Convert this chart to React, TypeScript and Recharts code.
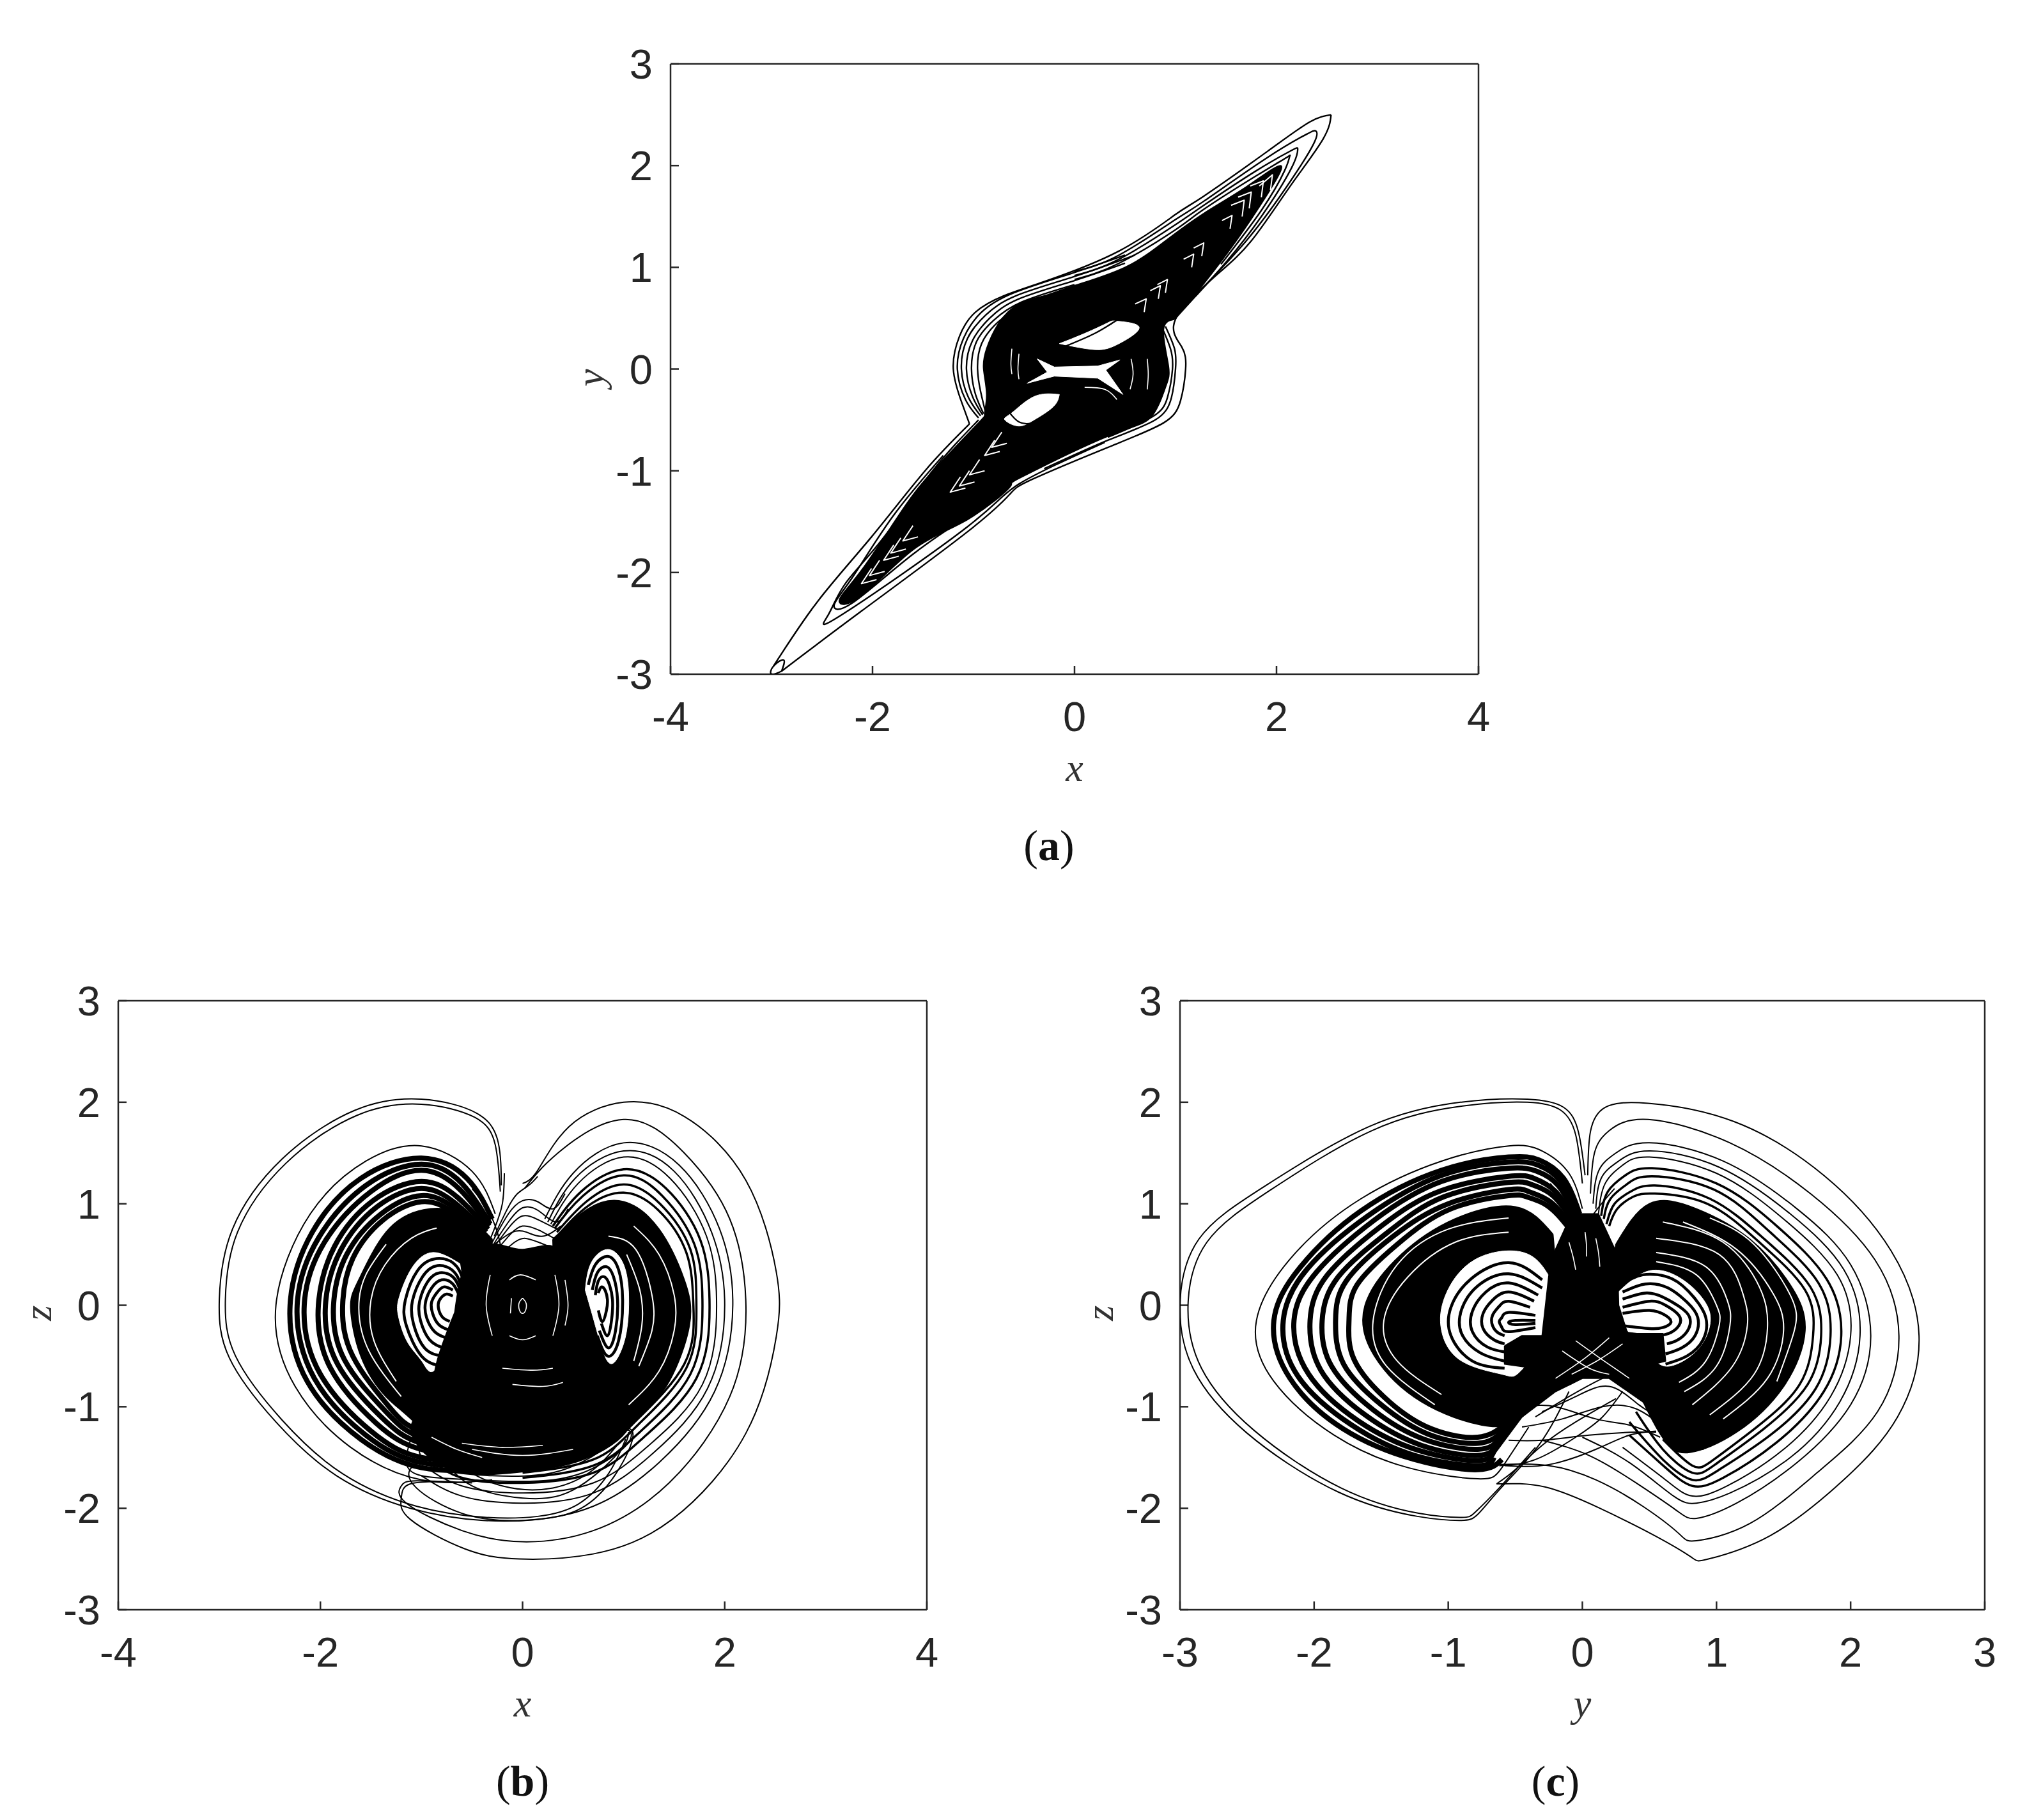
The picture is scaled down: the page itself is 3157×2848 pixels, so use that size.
import React from 'react';
import { ScatterChart, Scatter, XAxis, YAxis, Label } from 'recharts';

type Curve = number[][];

const ticksFour = [-4, -2, 0, 2, 4];
const ticksThree = [-3, -2, -1, 0, 1, 2, 3];

// ---- panel a: x / y
const aBody: Curve = [[0.99,0.49],[1.28,0.84],[1.6,1.26],[1.91,1.72],[2.04,2.0],[1.7,1.79],[1.28,1.53],[0.9,1.26],[0.5,1.0],[0,0.82],[-0.3,0.72],[-0.55,0.64],[-0.75,0.45],[-0.87,0.2],[-0.9,0],[-0.87,-0.25],[-0.89,-0.44],[-0.96,-0.54],[-1.38,-0.98],[-1.7,-1.38],[-2.11,-1.98],[-2.33,-2.28],[-2.11,-2.23],[-1.59,-1.77],[-1.06,-1.48],[-0.64,-1.16],[-0.52,-1.06],[0.33,-0.66],[0.75,-0.48],[0.9,-0.18],[0.93,0.03],[0.88,0.38],[0.99,0.49]];
const aHoleUp: Curve = [[-0.15,0.25],[0.1,0.35],[0.33,0.455],[0.43,0.47],[0.64,0.41],[0.44,0.25],[0.23,0.19],[0,0.22],[-0.15,0.25]];
const aHoleLow: Curve = [[-0.15,-0.25],[-0.4,-0.27],[-0.62,-0.43],[-0.69,-0.5],[-0.56,-0.56],[-0.4,-0.5],[-0.21,-0.37],[-0.15,-0.25]];
const aHoleMid: Curve = [[-0.37,0.1],[-0.2,0.02],[0.23,0.03],[0.45,0.09],[0.31,-0.01],[0.48,-0.25],[0.23,-0.09],[-0.2,-0.07],[-0.47,-0.14],[-0.27,-0.03],[-0.37,0.1]];
const aOut1: Curve = [[-1.04,-0.54],[-1.12,-0.32],[-1.2,0],[-1.14,0.32],[-0.98,0.56],[-0.7,0.72],[-0.3,0.86],[0.44,1.16],[1,1.52],[1.28,1.7],[1.91,2.14],[2.33,2.43],[2.54,2.5]];
const aOut2: Curve = [[2.54,2.5],[2.46,2.26],[2.13,1.79],[1.75,1.26],[1.39,0.91],[1.0,0.49],[1.06,0.22],[1.1,0],[1.05,-0.31],[0.88,-0.53],[0.33,-0.77],[-0.41,-1.08],[-0.64,-1.23],[-1.06,-1.6],[-2.11,-2.38],[-2.9,-2.97]];
const aOut3: Curve = [[-2.98,-2.92],[-2.54,-2.28],[-2.01,-1.65],[-1.48,-1.0],[-1.04,-0.54]];
const aTip: Curve = [[-2.9,-2.97],[-3,-3],[-2.98,-2.92],[-2.88,-2.86],[-2.9,-2.97]];
const aUp2: Curve = [[0,0.96],[0.44,1.12],[1,1.47],[1.28,1.65],[1.91,2.08],[2.3,2.31],[2.39,2.34],[2.36,2.2],[2.05,1.72],[1.7,1.26],[1.35,0.88],[1.0,0.5]];
const aUp3: Curve = [[0,0.92],[0.44,1.08],[1,1.42],[1.28,1.61],[1.8,1.95],[2.15,2.15],[2.21,2.16],[2.15,1.98],[1.85,1.5],[1.5,1.05],[1.2,0.72]];
const aUp4: Curve = [[0,0.88],[0.44,1.04],[1,1.37],[1.28,1.57],[1.8,1.9],[2.1,2.08],[2.13,2.09],[2.08,1.95],[1.85,1.56],[1.45,1.03]];
const aLow2: Curve = [[-0.95,-0.5],[-1.42,-1.02],[-1.9,-1.67],[-2.27,-2.11],[-2.44,-2.42],[-2.28,-2.4],[-1.06,-1.55],[-0.55,-1.13],[0.3,-0.72]];
const aLow3: Curve = [[-1.3,-0.85],[-1.8,-1.45],[-2.2,-2.05],[-2.38,-2.32],[-2.2,-2.3],[-1.6,-1.82],[-0.9,-1.35]];
const aBulge1: Curve = [[-0.95,-0.48],[-1.08,-0.3],[-1.16,0],[-1.1,0.3],[-0.93,0.55],[-0.6,0.75],[0,0.95],[0.5,1.12]];
const aBulge2: Curve = [[-0.93,-0.46],[-1.05,-0.28],[-1.12,0],[-1.06,0.3],[-0.88,0.53],[-0.58,0.72],[0,0.91],[0.6,1.12]];
const aBulge3: Curve = [[-0.91,-0.45],[-1.01,-0.27],[-1.07,0],[-1.01,0.28],[-0.84,0.5],[-0.55,0.69],[0,0.87],[0.5,1.04]];
const aBulge4: Curve = [[-0.9,-0.44],[-0.98,-0.25],[-1.02,0],[-0.97,0.27],[-0.8,0.48],[-0.52,0.66],[0,0.83]];
const aBulge5: Curve = [[-0.88,-0.43],[-0.93,-0.22],[-0.96,0],[-0.92,0.25],[-0.76,0.46],[-0.5,0.62],[0,0.79]];
const aRight1: Curve = [[0.9,0.42],[0.99,0.2],[1.0,0],[0.96,-0.28],[0.8,-0.5],[0.33,-0.7],[-0.3,-0.98]];
const aRight2: Curve = [[0.87,0.4],[0.95,0.2],[0.97,0],[0.92,-0.28],[0.77,-0.47],[0.33,-0.67]];
const aCross: Curve = [[-0.1,0.22],[0.2,0.35],[0.42,0.48],[0.6,0.55],[0.7,0.45]];
const aLowRing: Curve = [[-0.65,-0.42],[-0.55,-0.52],[-0.42,-0.53],[-0.3,-0.47]];
const aChevronsWhite: Curve[] = [
  [[1.83,1.8],[1.96,1.91],[1.94,1.76]],
  [[1.74,1.8],[1.87,1.85],[1.85,1.69]],
  [[1.62,1.69],[1.75,1.74],[1.73,1.58]],
  [[1.55,1.61],[1.68,1.66],[1.66,1.5]],
  [[1.46,1.46],[1.56,1.51],[1.54,1.38]],
  [[1.18,1.19],[1.28,1.24],[1.26,1.11]],
  [[1.08,1.08],[1.18,1.13],[1.16,1.0]],
  [[0.82,0.83],[0.92,0.88],[0.9,0.75]],
  [[0.75,0.77],[0.85,0.82],[0.83,0.69]],
  [[0.6,0.64],[0.71,0.69],[0.69,0.56]],
  [[-2.01,-1.96],[-2.11,-2.11],[-1.96,-2.07]],
  [[-1.93,-1.88],[-2.03,-2.03],[-1.88,-1.99]],
  [[-1.79,-1.73],[-1.89,-1.88],[-1.74,-1.84]],
  [[-1.72,-1.66],[-1.82,-1.81],[-1.67,-1.77]],
  [[-1.6,-1.54],[-1.7,-1.69],[-1.55,-1.65]],
  [[-1.13,-1.06],[-1.23,-1.21],[-1.08,-1.17]],
  [[-1.04,-1.0],[-1.14,-1.15],[-0.99,-1.11]],
  [[-0.94,-0.89],[-1.04,-1.04],[-0.89,-1.0]],
  [[-0.79,-0.7],[-0.89,-0.85],[-0.74,-0.81]],
  [[-0.72,-0.62],[-0.82,-0.77],[-0.67,-0.73]],
];
const aSlitsWhite: Curve[] = [
  [[-0.55,0.15],[-0.56,0],[-0.55,-0.1]],
  [[-0.62,0.2],[-0.63,0.05],[-0.62,-0.05]],
  [[0.56,0.1],[0.58,-0.05],[0.55,-0.2]],
  [[0.72,0.1],[0.73,-0.05],[0.72,-0.2]],
  [[0.1,-0.18],[0.3,-0.2],[0.42,-0.3]],
];

// ---- panel b: x / z
const bLeftRing: Curve = [[-0.3,0.65],[-0.6,0.9],[-0.98,0.94],[-1.35,0.72],[-1.62,0.25],[-1.7,-0.03],[-1.6,-0.5],[-1.35,-0.9],[-1.0,-1.22],[-0.5,-1.35],[-0.3,0.65]];
const bLeftEye: Curve = [[-0.62,0.41],[-0.89,0.52],[-1.1,0.36],[-1.22,0.08],[-1.23,-0.1],[-1.14,-0.36],[-0.99,-0.56],[-0.85,-0.62],[-0.62,-0.1],[-0.62,0.41]];
const bRightRing: Curve = [[0.3,0.65],[0.65,0.95],[1,1.02],[1.35,0.75],[1.6,0.25],[1.65,-0.2],[1.45,-0.75],[1.1,-1.15],[0.5,-1.3],[0.3,0.65]];
const bRightEye: Curve = [[0.62,0.15],[0.68,0.42],[0.85,0.55],[1,0.4],[1.05,0.1],[1.03,-0.25],[0.95,-0.5],[0.84,-0.55],[0.72,-0.2],[0.62,0.15]];
const bCore: Curve = [[-0.67,-0.07],[-0.6,0.3],[-0.45,0.52],[-0.25,0.6],[0,0.55],[0.3,0.58],[0.5,0.35],[0.62,0.1],[0.7,-0.2],[0.8,-0.55],[0.95,-0.85],[1.05,-1.2],[0.6,-1.52],[0,-1.64],[-0.7,-1.62],[-1.1,-1.25],[-0.95,-0.95],[-0.85,-0.57],[-0.67,-0.07]];
const bLeftBig1: Curve = [[-0.21,1.18],[-0.24,1.6],[-0.45,1.89],[-1,2.03],[-1.66,1.92],[-2.38,1.44],[-2.87,0.75],[-3,0.06],[-2.9,-0.52],[-2.44,-1.15],[-1.84,-1.68],[-1.11,-2],[-0.39,-2.12],[0.15,-2.11],[0.58,-2],[0.91,-1.68],[1.09,-1.31],[1.02,-1.2]];
const bLeftBig2: Curve = [[-0.22,1.12],[-0.27,1.58],[-0.47,1.85],[-1,1.98],[-1.64,1.87],[-2.34,1.4],[-2.82,0.72],[-2.94,0.06],[-2.84,-0.5],[-2.38,-1.13],[-1.78,-1.66],[-1.05,-1.98],[-0.36,-2.09],[0.15,-2.08],[0.55,-1.96],[0.85,-1.66],[1.02,-1.32]];
const bL1: Curve = [[-0.27,0.9],[-0.5,1.32],[-1,1.57],[-1.55,1.42],[-2.1,0.9],[-2.44,0],[-2.25,-0.8],[-1.7,-1.4],[-1,-1.72],[-0.3,-1.72]];
const bL2: Curve = [[-0.3,0.85],[-0.55,1.25],[-1,1.45],[-1.6,1.25],[-2.08,0.72],[-2.3,0],[-2.13,-0.75],[-1.6,-1.32],[-1,-1.6],[-0.3,-1.62]];
const bL3: Curve = [[-0.32,0.8],[-0.6,1.2],[-1,1.39],[-1.55,1.18],[-2.02,0.66],[-2.23,0],[-2.06,-0.72],[-1.55,-1.28],[-1,-1.55],[-0.3,-1.58]];
const bL4: Curve = [[-0.33,0.78],[-0.62,1.14],[-1,1.33],[-1.5,1.12],[-1.96,0.62],[-2.16,0],[-2.0,-0.68],[-1.5,-1.24],[-1,-1.5],[-0.3,-1.55]];
const bL5: Curve = [[-0.34,0.75],[-0.64,1.06],[-1,1.22],[-1.48,1.03],[-1.86,0.58],[-2.02,0],[-1.9,-0.62],[-1.45,-1.16],[-1,-1.42],[-0.3,-1.52]];
const bL6: Curve = [[-0.36,0.72],[-0.66,1.0],[-1,1.15],[-1.44,0.97],[-1.8,0.54],[-1.95,0],[-1.83,-0.58],[-1.4,-1.1],[-1,-1.36],[-0.3,-1.48]];
const bL7: Curve = [[-0.38,0.7],[-0.68,0.96],[-1,1.08],[-1.4,0.9],[-1.74,0.5],[-1.87,0],[-1.76,-0.54],[-1.36,-1.04],[-1,-1.3],[-0.3,-1.42]];
const bL8: Curve = [[-0.4,0.68],[-0.7,0.92],[-1,1.02],[-1.38,0.84],[-1.68,0.46],[-1.78,0],[-1.68,-0.5],[-1.32,-1.0],[-1,-1.24],[-0.3,-1.38]];
const bLEye1: Curve = [[-0.8,-0.6],[-1,-0.5],[-1.15,-0.2],[-1.16,0.05],[-1.04,0.34],[-0.85,0.46],[-0.65,0.38],[-0.55,0.1]];
const bLEye2: Curve = [[-0.8,-0.5],[-0.97,-0.42],[-1.08,-0.18],[-1.09,0.04],[-0.99,0.28],[-0.84,0.39],[-0.67,0.32],[-0.58,0.1]];
const bLEye3: Curve = [[-0.78,-0.42],[-0.92,-0.34],[-1.01,-0.15],[-1.02,0.03],[-0.94,0.23],[-0.82,0.32],[-0.68,0.27],[-0.6,0.1]];
const bLEye4: Curve = [[-0.76,-0.32],[-0.87,-0.26],[-0.95,-0.12],[-0.96,0.03],[-0.9,0.17],[-0.8,0.25],[-0.69,0.21],[-0.62,0.08]];
const bLEye5: Curve = [[-0.74,-0.24],[-0.83,-0.19],[-0.89,-0.08],[-0.9,0.03],[-0.85,0.12],[-0.78,0.18],[-0.69,0.15]];
const bLEye6: Curve = [[-0.72,-0.16],[-0.79,-0.12],[-0.83,-0.04],[-0.83,0.03],[-0.8,0.08],[-0.75,0.11],[-0.69,0.09]];
const bREye1: Curve = [[0.74,-0.3],[0.84,-0.5],[0.95,-0.35],[0.99,0.05],[0.95,0.35],[0.85,0.48],[0.72,0.4],[0.65,0.2]];
const bREye2: Curve = [[0.76,-0.25],[0.85,-0.42],[0.92,-0.25],[0.94,0.05],[0.9,0.28],[0.83,0.38],[0.74,0.32],[0.69,0.15]];
const bREye3: Curve = [[0.78,-0.18],[0.84,-0.3],[0.88,-0.15],[0.89,0.05],[0.86,0.2],[0.81,0.28],[0.75,0.24],[0.72,0.1]];
const bREye4: Curve = [[0.75,-0.05],[0.79,-0.16],[0.83,-0.05],[0.84,0.05],[0.82,0.14],[0.78,0.18],[0.75,0.12]];
const bR1: Curve = [[0,1.2],[0.15,1.33],[0.46,1.76],[1,2],[1.6,1.86],[2.21,1.23],[2.51,0.33],[2.51,-0.31],[2.21,-1.26],[1.48,-2.11],[0.7,-2.45],[-0.03,-2.5],[-0.57,-2.4],[-1.11,-2.11],[-1.2,-1.9],[-1.11,-1.76],[-0.69,-1.74]];
const bR2: Curve = [[0.02,1.15],[0.35,1.5],[1,1.83],[1.6,1.5],[2.05,0.85],[2.21,0],[2.05,-0.9],[1.45,-1.75],[0.7,-2.22],[0,-2.33],[-0.6,-2.22],[-1.15,-1.95],[-1.2,-1.78],[-1.05,-1.73],[-0.5,-1.75]];
const bR3: Curve = [[0.22,0.85],[0.5,1.3],[1,1.6],[1.55,1.38],[1.95,0.75],[2.08,0],[1.9,-0.85],[1.35,-1.55],[0.7,-1.98],[0,-2.12],[-0.6,-2.05],[-1.05,-1.8],[-1.1,-1.6],[-0.9,-1.5]];
const bR4: Curve = [[0.25,0.82],[0.52,1.25],[1,1.52],[1.5,1.32],[1.87,0.72],[2,0],[1.83,-0.82],[1.3,-1.45],[0.7,-1.85],[0,-1.95],[-0.6,-1.88],[-1,-1.68]];
const bR5: Curve = [[0.28,0.8],[0.55,1.2],[1,1.46],[1.46,1.25],[1.82,0.68],[1.92,0],[1.78,-0.78],[1.25,-1.38],[0.7,-1.75],[0,-1.85],[-0.6,-1.78],[-0.95,-1.6]];
const bR6: Curve = [[0.3,0.78],[0.58,1.12],[1,1.34],[1.42,1.15],[1.76,0.64],[1.85,0],[1.72,-0.72],[1.2,-1.3],[0.7,-1.65],[0,-1.75],[-0.6,-1.7],[-0.9,-1.52]];
const bR7: Curve = [[0.32,0.76],[0.6,1.08],[1,1.28],[1.38,1.08],[1.7,0.6],[1.78,0],[1.66,-0.68],[1.17,-1.24],[0.7,-1.58],[0,-1.7]];
const bR8: Curve = [[0.34,0.72],[0.63,1.02],[1,1.19],[1.36,1],[1.66,0.55],[1.72,0],[1.62,-0.62],[1.14,-1.18],[0.7,-1.52],[0,-1.65]];
const bR9: Curve = [[0.36,0.7],[0.65,0.98],[1,1.11],[1.34,0.94],[1.62,0.52],[1.69,0],[1.6,-0.58],[1.12,-1.14],[0.7,-1.46],[0,-1.6]];
const bHump1: Curve = [[-0.28,0.68],[-0.15,0.95],[-0.05,1.1],[0.06,1.18],[0.15,1.27]];
const bHump2: Curve = [[-0.3,0.62],[-0.14,0.9],[0,1.03],[0.15,1.02],[0.3,0.95],[0.42,1.1]];
const bHump3: Curve = [[-0.3,0.58],[-0.14,0.82],[0,0.96],[0.16,0.93],[0.33,0.82],[0.45,0.95]];
const bHump4: Curve = [[-0.3,0.55],[-0.14,0.76],[0,0.88],[0.16,0.84],[0.36,0.74]];
const bHump5: Curve = [[-0.25,0.55],[-0.12,0.7],[0,0.78],[0.16,0.74],[0.38,0.62]];
const bHump6: Curve = [[-0.2,0.52],[-0.08,0.62],[0.02,0.66],[0.16,0.62],[0.36,0.54]];
const bHump7: Curve = [[-0.28,0.6],[-0.1,0.72],[0.04,0.72],[0.2,0.68],[0.38,0.78]];
const bFall1: Curve = [[-0.18,1.3],[-0.2,1.0],[-0.28,0.75],[-0.38,0.5]];
const bFall2: Curve = [[-0.5,1.15],[-0.35,0.95],[-0.25,0.72],[-0.2,0.5]];
const bHook1: Curve = [[-1.1,-1.3],[-1.15,-1.55],[-1.0,-1.68],[-0.5,-1.72],[0.3,-1.72],[0.8,-1.55],[1.05,-1.35],[1.02,-1.22],[0.7,-1.25]];
const bHook2: Curve = [[-0.95,-1.2],[-1.02,-1.45],[-0.8,-1.62],[-0.3,-1.68],[0.3,-1.65],[0.75,-1.45],[0.95,-1.28]];
const bHook3: Curve = [[-0.8,-1.5],[-0.5,-1.78],[0,-1.9],[0.5,-1.82],[0.95,-1.45],[1.05,-1.25]];
const bHook4: Curve = [[-0.6,-1.6],[-0.2,-1.78],[0.3,-1.8],[0.7,-1.62],[0.95,-1.36]];
const bCoreWhite: Curve[] = [
  [[-0.13,0.25],[-0.02,0.3],[0.13,0.25]],
  [[-0.13,-0.3],[0,-0.34],[0.13,-0.3]],
  [[-0.11,0.07],[-0.12,-0.08]],
  [[0,0.07],[0.035,0.02],[0.03,-0.05],[0,-0.08],[-0.03,-0.05],[-0.035,0.02],[0,0.07]],
  [[-0.32,0.3],[-0.36,0],[-0.3,-0.3]],
  [[0.32,0.3],[0.36,0],[0.3,-0.3]],
  [[0.42,0.25],[0.45,0],[0.42,-0.2]],
  [[-0.2,-0.62],[0.1,-0.64],[0.3,-0.62]],
  [[-0.1,-0.78],[0.2,-0.8],[0.4,-0.76]],
  [[-0.5,-1.42],[0,-1.48],[0.5,-1.42]],
  [[-0.6,-1.36],[-0.2,-1.4],[0.2,-1.38]],
  [[-0.9,-1.3],[-0.65,-1.42],[-0.4,-1.5]],
];
const bRingWhite: Curve[] = [
  [[-0.85,0.76],[-1.1,0.66],[-1.36,0.4],[-1.5,0.05],[-1.47,-0.35],[-1.25,-0.75]],
  [[-1.2,-0.9],[-1.52,-0.45],[-1.62,-0.03],[-1.55,0.3],[-1.35,0.6]],
  [[1.1,0.78],[1.35,0.5],[1.5,0.1],[1.5,-0.25],[1.35,-0.65],[1.05,-0.98]],
  [[0.85,0.68],[1.12,0.55],[1.28,0.1],[1.28,-0.25],[1.15,-0.6]],
  [[1.1,-0.55],[1.18,-0.2],[1.16,0.15],[1.03,0.5]],
];

// ---- panel c: y / z
const cLeftRing: Curve = [[-0.22,0.7],[-0.5,0.97],[-0.95,0.85],[-1.35,0.5],[-1.62,0],[-1.55,-0.5],[-1.2,-0.95],[-0.75,-1.18],[-0.45,-1.1],[-0.2,-0.5],[-0.22,0.7]];
const cLeftEye: Curve = [[-0.25,0.29],[-0.44,0.52],[-0.8,0.45],[-1.02,0.1],[-1.05,-0.25],[-0.9,-0.55],[-0.6,-0.68],[-0.47,-0.66],[-0.3,-0.3],[-0.25,0.29]];
const cRightRing: Curve = [[0.25,0.6],[0.5,1.0],[0.85,0.95],[1.25,0.65],[1.55,0.2],[1.66,-0.25],[1.5,-0.8],[1.15,-1.25],[0.8,-1.45],[0.55,-1.2],[0.25,-0.2],[0.25,0.6]];
const cRightEye: Curve = [[0.26,0.12],[0.5,0.34],[0.75,0.25],[0.92,0.02],[0.95,-0.2],[0.85,-0.45],[0.65,-0.6],[0.5,-0.5],[0.3,-0.22],[0.26,0.12]];
const cCentre: Curve = [[-0.08,0.9],[0.12,0.9],[0.26,0.5],[0.27,0.0],[0.33,-0.25],[0.55,-0.7],[0.9,-1.42],[0.75,-1.4],[0.45,-0.95],[0.2,-0.72],[0.0,-0.72],[-0.2,-0.85],[-0.45,-1.1],[-0.72,-1.58],[-0.62,-1.2],[-0.42,-0.75],[-0.3,-0.3],[-0.25,0.29],[-0.2,0.55],[-0.08,0.9]];
const cBlock: Curve = [[-0.58,-0.4],[-0.45,-0.3],[-0.3,-0.3],[-0.36,-0.62],[-0.58,-0.58],[-0.58,-0.4]];
const cBlockR: Curve = [[0.33,-0.28],[0.6,-0.28],[0.62,-0.55],[0.42,-0.62],[0.33,-0.28]];
const cBig1: Curve = [[0.02,1.28],[-0.03,1.71],[-0.14,1.95],[-0.41,2.03],[-0.91,2],[-1.59,1.76],[-2.36,1.18],[-2.86,0.65],[-3,0],[-2.9,-0.63],[-2.5,-1.26],[-1.82,-1.84],[-1.23,-2.08],[-0.91,-2.12],[-0.78,-2.06],[-0.6,-1.79],[-0.32,-1.37],[-0.1,-0.85]];
const cBig2: Curve = [[0.0,1.2],[-0.05,1.68],[-0.16,1.92],[-0.41,2.0],[-0.91,1.96],[-1.57,1.72],[-2.32,1.14],[-2.8,0.62],[-2.94,0],[-2.84,-0.62],[-2.45,-1.23],[-1.8,-1.8],[-1.22,-2.05],[-0.9,-2.09],[-0.8,-2.04],[-0.62,-1.8],[-0.35,-1.4]];
const cL1: Curve = [[0.0,0.95],[-0.1,1.3],[-0.3,1.52],[-0.55,1.57],[-1.05,1.42],[-1.65,1.05],[-2.15,0.5],[-2.43,-0.15],[-2.3,-0.75],[-1.85,-1.28],[-1.3,-1.6],[-0.78,-1.71],[-0.6,-1.6],[-0.4,-1.2]];
const cL2: Curve = [[-0.02,0.9],[-0.14,1.25],[-0.32,1.43],[-0.55,1.46],[-1.05,1.33],[-1.65,0.93],[-2.1,0.38],[-2.3,-0.15],[-2.18,-0.72],[-1.78,-1.22],[-1.25,-1.52],[-0.78,-1.62],[-0.6,-1.52]];
const cL3: Curve = [[-0.03,0.88],[-0.16,1.22],[-0.33,1.38],[-0.55,1.41],[-1.05,1.28],[-1.6,0.88],[-2.05,0.36],[-2.23,-0.15],[-2.12,-0.7],[-1.72,-1.18],[-1.25,-1.48],[-0.78,-1.58],[-0.66,-1.5]];
const cL4: Curve = [[-0.04,0.85],[-0.18,1.18],[-0.34,1.32],[-0.55,1.35],[-1.05,1.22],[-1.55,0.84],[-1.98,0.33],[-2.15,-0.15],[-2.04,-0.68],[-1.67,-1.14],[-1.22,-1.43],[-0.78,-1.53],[-0.66,-1.44]];
const cL5: Curve = [[-0.05,0.82],[-0.2,1.12],[-0.36,1.25],[-0.55,1.27],[-1.05,1.13],[-1.5,0.78],[-1.9,0.3],[-2.03,-0.15],[-1.95,-0.64],[-1.62,-1.08],[-1.2,-1.38],[-0.78,-1.48],[-0.64,-1.38]];
const cL6: Curve = [[-0.06,0.8],[-0.22,1.08],[-0.38,1.19],[-0.55,1.21],[-1.03,1.07],[-1.45,0.72],[-1.82,0.28],[-1.94,-0.15],[-1.87,-0.6],[-1.56,-1.03],[-1.18,-1.32],[-0.78,-1.42],[-0.62,-1.32]];
const cL7: Curve = [[-0.08,0.78],[-0.24,1.02],[-0.4,1.12],[-0.55,1.14],[-1.0,1.0],[-1.42,0.67],[-1.76,0.24],[-1.84,-0.15],[-1.78,-0.58],[-1.5,-0.98],[-1.15,-1.27],[-0.78,-1.36],[-0.6,-1.25]];
const cL8: Curve = [[-0.1,0.76],[-0.26,0.98],[-0.42,1.07],[-0.55,1.08],[-0.98,0.95],[-1.38,0.6],[-1.68,0.2],[-1.74,-0.15],[-1.7,-0.54],[-1.44,-0.95],[-1.12,-1.22],[-0.78,-1.3],[-0.58,-1.18]];
const cLEye1: Curve = [[-0.58,-0.62],[-0.82,-0.55],[-0.98,-0.3],[-0.98,-0.02],[-0.83,0.26],[-0.55,0.42],[-0.3,0.25]];
const cLEye2: Curve = [[-0.58,-0.55],[-0.76,-0.47],[-0.9,-0.28],[-0.9,-0.04],[-0.78,0.19],[-0.55,0.31],[-0.3,0.17]];
const cLEye3: Curve = [[-0.58,-0.46],[-0.71,-0.41],[-0.82,-0.26],[-0.82,-0.06],[-0.72,0.13],[-0.55,0.22],[-0.33,0.1]];
const cLEye4: Curve = [[-0.58,-0.38],[-0.66,-0.34],[-0.74,-0.23],[-0.74,-0.08],[-0.67,0.05],[-0.55,0.13],[-0.36,0.04]];
const cLEye5: Curve = [[-0.58,-0.3],[-0.63,-0.27],[-0.67,-0.2],[-0.67,-0.1],[-0.62,-0.01],[-0.55,0.04],[-0.39,-0.02]];
const cLEye6: Curve = [[-0.35,-0.1],[-0.55,-0.07],[-0.6,-0.12],[-0.62,-0.16],[-0.6,-0.22],[-0.55,-0.26],[-0.35,-0.22]];
const cLEye7: Curve = [[-0.35,-0.15],[-0.5,-0.15],[-0.55,-0.17],[-0.5,-0.19],[-0.35,-0.18]];
const cR1: Curve = [[0.04,1.28],[0.06,1.71],[0.17,1.95],[0.49,1.99],[1.13,1.81],[1.8,1.28],[2.3,0.54],[2.51,-0.3],[2.35,-1.1],[1.94,-1.73],[1.4,-2.27],[0.94,-2.5],[0.81,-2.48],[0.54,-2.27],[0.13,-2],[-0.28,-1.79],[-0.64,-1.76]];
const cR2: Curve = [[0.06,1.1],[0.09,1.5],[0.2,1.72],[0.49,1.83],[1.1,1.6],[1.7,1.1],[2.18,0.45],[2.36,-0.3],[2.2,-1.05],[1.75,-1.65],[1.25,-2.15],[0.85,-2.32],[0.72,-2.25],[0.45,-1.98],[0.1,-1.72],[-0.25,-1.58],[-0.62,-1.57]];
const cR3: Curve = [[0.08,1.0],[0.12,1.32],[0.25,1.5],[0.5,1.6],[1.05,1.42],[1.6,0.95],[2.0,0.4],[2.15,-0.3],[2.0,-0.98],[1.6,-1.55],[1.15,-1.95],[0.85,-2.1],[0.7,-2.02],[0.4,-1.75],[0.05,-1.48],[-0.3,-1.33]];
const cR4: Curve = [[0.1,0.95],[0.14,1.25],[0.27,1.42],[0.5,1.52],[1.02,1.36],[1.55,0.9],[1.95,0.35],[2.07,-0.3],[1.92,-0.95],[1.55,-1.5],[1.1,-1.85],[0.85,-1.95],[0.68,-1.88],[0.35,-1.55],[0,-1.3]];
const cR5: Curve = [[0.12,0.9],[0.17,1.2],[0.3,1.38],[0.5,1.46],[1,1.3],[1.5,0.85],[1.9,0.3],[2.0,-0.3],[1.85,-0.9],[1.5,-1.42],[1.08,-1.78],[0.82,-1.88],[0.62,-1.72],[0.3,-1.4]];
const cR6: Curve = [[0.14,0.88],[0.19,1.12],[0.32,1.28],[0.52,1.35],[1,1.2],[1.45,0.78],[1.82,0.26],[1.93,-0.3],[1.8,-0.85],[1.45,-1.35],[1.05,-1.7],[0.82,-1.78],[0.62,-1.6],[0.35,-1.28]];
const cR7: Curve = [[0.16,0.85],[0.21,1.05],[0.34,1.2],[0.52,1.27],[0.98,1.14],[1.4,0.72],[1.76,0.22],[1.85,-0.3],[1.74,-0.82],[1.4,-1.28],[1.02,-1.62],[0.82,-1.72],[0.6,-1.52],[0.35,-1.15]];
const cR8: Curve = [[0.18,0.8],[0.24,1.0],[0.36,1.12],[0.54,1.18],[0.95,1.05],[1.35,0.66],[1.7,0.18],[1.78,-0.3],[1.68,-0.78],[1.35,-1.22],[1.0,-1.56],[0.82,-1.65],[0.6,-1.42],[0.4,-1.05]];
const cR9: Curve = [[0.2,0.78],[0.26,0.95],[0.38,1.07],[0.54,1.1],[0.93,1.0],[1.32,0.62],[1.66,0.15],[1.72,-0.3],[1.62,-0.78],[1.3,-1.2],[0.98,-1.52],[0.82,-1.58],[0.6,-1.32]];
const cREye1: Curve = [[0.62,-0.58],[0.78,-0.5],[0.9,-0.34],[0.92,-0.12],[0.83,0.08],[0.67,0.26],[0.45,0.3],[0.3,0.2]];
const cREye2: Curve = [[0.62,-0.48],[0.74,-0.42],[0.84,-0.3],[0.86,-0.12],[0.78,0.03],[0.64,0.17],[0.47,0.21],[0.3,0.13]];
const cREye3: Curve = [[0.63,-0.38],[0.7,-0.35],[0.78,-0.26],[0.8,-0.12],[0.72,-0.01],[0.6,0.08],[0.47,0.12],[0.3,0.06]];
const cREye4: Curve = [[0.3,-0.02],[0.5,0.04],[0.62,0.0],[0.72,-0.1],[0.72,-0.2],[0.64,-0.28],[0.5,-0.3],[0.3,-0.27]];
const cREye5: Curve = [[0.3,-0.08],[0.5,-0.05],[0.62,-0.1],[0.66,-0.17],[0.6,-0.22],[0.5,-0.23],[0.3,-0.2]];
const cFan1: Curve = [[-0.55,-1.33],[-0.3,-1.33],[0.05,-1.28],[0.4,-1.25],[0.55,-1.25]];
const cFan2: Curve = [[-0.62,-1.58],[-0.35,-1.52],[-0.05,-1.3],[0.15,-1.1],[0.3,-0.85]];
const cFan3: Curve = [[-0.64,-1.76],[-0.5,-1.62],[-0.3,-1.38],[-0.05,-1.15],[0.25,-0.92]];
const cFan4: Curve = [[-0.58,-1.58],[-0.25,-1.57],[0.1,-1.42],[0.35,-1.28],[0.55,-1.24]];
const cFan5: Curve = [[-0.35,-1.1],[-0.1,-0.9],[0.15,-0.72],[0.4,-0.65],[0.65,-0.9]];
const cFan6: Curve = [[-0.3,-0.85],[-0.05,-0.75],[0.2,-0.55],[0.45,-0.72],[0.7,-1.15]];
const cFan7: Curve = [[-0.45,-1.2],[-0.15,-1.12],[0.15,-1.0],[0.4,-1.02],[0.62,-1.22]];
const cFan8: Curve = [[-0.2,-0.6],[0,-0.5],[0.15,-0.35],[0.3,-0.5],[0.5,-0.8]];
const cFan10: Curve = [[-0.3,-1.05],[-0.05,-0.9],[0.2,-0.8],[0.42,-0.98],[0.6,-1.12]];
const cFan11: Curve = [[-0.42,-1.0],[-0.2,-1.0],[0.1,-1.12],[0.35,-1.18],[0.58,-1.3]];
const cTopFan1: Curve = [[-0.24,1.2],[-0.12,1.0],[0.0,0.8]];
const cTopFan2: Curve = [[0.24,1.15],[0.13,0.98],[0.03,0.8]];
const cRingWhite: Curve[] = [
  [[-0.55,0.72],[-0.95,0.62],[-1.3,0.28],[-1.48,-0.15],[-1.38,-0.55],[-1.05,-0.88]],
  [[-0.55,0.86],[-1.0,0.75],[-1.38,0.4],[-1.56,-0.15],[-1.46,-0.6],[-1.1,-0.98]],
  [[0.55,0.66],[1.02,0.5],[1.2,0.1],[1.23,-0.2],[1.12,-0.6],[0.82,-0.98]],
  [[0.55,0.52],[0.92,0.38],[1.08,0.05],[1.1,-0.2],[1.0,-0.6],[0.76,-0.85]],
  [[0.55,0.43],[0.85,0.3],[1.0,0],[1.02,-0.2],[0.92,-0.55],[0.72,-0.76]],
  [[0.75,0.82],[1.15,0.55],[1.42,0.12],[1.5,-0.25],[1.38,-0.72],[1.05,-1.12]],
  [[0.6,0.82],[1.05,0.62],[1.32,0.18],[1.38,-0.22],[1.28,-0.68],[0.95,-1.08]],
  [[0.95,0.86],[1.28,0.6],[1.55,0.1],[1.58,-0.25],[1.45,-0.75]],
];
const cHatchWhite: Curve[] = [
  [[-0.2,-0.72],[0.02,-0.52],[0.2,-0.32]],
  [[-0.08,-0.68],[0.12,-0.54],[0.3,-0.38]],
  [[-0.05,-0.35],[0.13,-0.52],[0.35,-0.72]],
  [[-0.15,-0.45],[0.05,-0.62],[0.2,-0.68]],
  [[-0.1,0.62],[-0.07,0.48],[-0.05,0.35]],
  [[0.1,0.66],[0.12,0.52],[0.13,0.38]],
  [[0.02,0.72],[0.03,0.6],[0.03,0.48]],
];

const aFills = [aBody];
const aHoles = [aHoleUp, aHoleLow];
const aHolesSharp = [aHoleMid];
const aLines = [aOut1, aOut2, aOut3, aTip, aUp2, aUp3, aUp4, aLow2, aLow3, aBulge1, aBulge2, aBulge3, aBulge4, aBulge5, aRight1, aRight2, aCross, aLowRing];
const bFills = [bLeftRing, bRightRing];
const bHoles = [bLeftEye, bRightEye];
const bThin = [bLeftBig1, bLeftBig2, bL1, bR1, bR2, bR3, bR4, bR5, bHump1, bHump2, bHump3, bHump4, bHump5, bHump6, bHump7, bFall1, bFall2, bHook1, bHook2, bHook3, bHook4];
const bHeavy = [bL2, bL3, bL4, bL5, bL6, bL7, bL8];
const bMedium = [bR6, bR7, bR8, bR9];
const bEyes = [bLEye1, bLEye2, bLEye3, bLEye4, bLEye5, bLEye6, bREye1, bREye2, bREye3, bREye4];
const bTop = [bCore];
const cFills = [cLeftRing, cRightRing];
const cHoles = [cLeftEye, cRightEye];
const cThin = [cBig1, cBig2, cL1, cR1, cR2, cR3, cR4, cR5, cFan1, cFan2, cFan3, cFan4, cFan5, cFan6, cFan7, cFan8, cFan10, cFan11, cTopFan1, cTopFan2];
const cHeavy = [cL2, cL3, cL4, cL5, cL6, cL7, cL8];
const cMedium = [cR6, cR7, cR8, cR9];
const cEyes = [cLEye1, cLEye2, cLEye3, cLEye4, cLEye5, cLEye6, cLEye7, cREye1, cREye2, cREye3, cREye4, cREye5];
const cTop = [cCentre, cBlock, cBlockR];

const INK = '#262626';
const noDot = () => <g />;
const toPoints = (c: Curve) => c.map(([x, y]) => ({ x, y }));

const series = (curves: Curve[], key: string, stroke: string, fill: string, width: number, joint: 'natural' | 'linear') =>
  curves.map((c, i) => (
    <Scatter
      key={key + i}
      data={toPoints(c)}
      shape={noDot}
      line={{ stroke, strokeWidth: width, fill, strokeLinejoin: 'round' }}
      lineJointType={joint}
      isAnimationActive={false}
    />
  ));

interface PanelProps {
  box: { left: number; top: number; width: number; height: number };
  xTicks: number[];
  xName: string;
  yName: string;
  caption: string;
  captionShift: number;
  layers: React.ReactNode[];
}

const M = { left: 180, right: 49, top: 59, bottom: 209 };

const Panel: React.FC<PanelProps> = ({ box, xTicks, xName, yName, caption, captionShift, layers }) => {
  const xDomain = [xTicks[0], xTicks[xTicks.length - 1]];
  const tickFont = { fontFamily: 'Liberation Sans', fontSize: 65, fill: INK };
  const nameFont = { fontFamily: 'Liberation Serif', fontStyle: 'italic', fontSize: 62, fill: '#333' };
  return (
    <>
      <div style={{ position: 'absolute', left: box.left - M.left - 1, top: box.top - M.top - 1 }}>
        <ScatterChart width={box.width + M.left + M.right + 2} height={box.height + M.top + M.bottom + 2} margin={M}>
          <XAxis type="number" dataKey="x" domain={xDomain} ticks={xTicks} height={1} allowDataOverflow interval={0}
            stroke={INK} strokeWidth={2.5} tickSize={-13} tickMargin={56} tick={tickFont} tickFormatter={String}>
            <Label value={xName} position="bottom" offset={122} style={nameFont} />
          </XAxis>
          <XAxis xAxisId="top" orientation="top" type="number" domain={xDomain} ticks={xTicks} height={1} allowDataOverflow interval={0}
            stroke={INK} strokeWidth={2.5} tickSize={-13} tick={false} />
          <YAxis type="number" dataKey="y" domain={[-3, 3]} ticks={ticksThree} width={1} allowDataOverflow interval={0}
            stroke={INK} strokeWidth={2.5} tickSize={-13} tickMargin={41} tick={tickFont} tickFormatter={String}>
            <Label value={yName} position="left" angle={-90} offset={126} style={nameFont} />
          </YAxis>
          <YAxis yAxisId="right" orientation="right" type="number" domain={[-3, 3]} ticks={ticksThree} width={1} allowDataOverflow interval={0}
            stroke={INK} strokeWidth={2.5} tickSize={-13} tick={false} />
          {layers}
        </ScatterChart>
      </div>
      <div style={{ position: 'absolute', left: box.left + captionShift, width: box.width, top: box.top + box.height + 228, textAlign: 'center', fontFamily: 'Liberation Serif', fontSize: 68, lineHeight: '80px', color: '#111' }}>
        (<b>{caption}</b>)
      </div>
    </>
  );
};

export default function App() {
  const layersA = [
    ...series(aFills, 'af', '#000', '#000', 2, 'natural'),
    ...series(aHoles, 'ah', '#fff', '#fff', 1, 'natural'),
    ...series(aHolesSharp, 'am', '#fff', '#fff', 1, 'linear'),
    ...series(aLines, 'al', '#000', 'none', 2.4, 'natural'),
    ...series(aChevronsWhite, 'ac', '#fff', 'none', 2, 'linear'),
    ...series(aSlitsWhite, 'as', '#fff', 'none', 1.6, 'natural'),
  ];
  const layersB = [
    ...series(bFills, 'bf', '#000', '#000', 2, 'natural'),
    ...series(bHoles, 'bh', '#fff', '#fff', 1, 'natural'),
    ...series(bRingWhite, 'bw', '#fff', 'none', 2, 'natural'),
    ...series(bThin, 'bl', '#000', 'none', 2, 'natural'),
    ...series(bHeavy, 'bv', '#000', 'none', 8, 'natural'),
    ...series(bMedium, 'bm', '#000', 'none', 3.5, 'natural'),
    ...series(bEyes, 'be', '#000', 'none', 4.5, 'natural'),
    ...series(bTop, 'bt', '#000', '#000', 2, 'natural'),
    ...series(bCoreWhite, 'bc', '#fff', 'none', 1.6, 'natural'),
  ];
  const layersC = [
    ...series(cFills, 'cf', '#000', '#000', 2, 'natural'),
    ...series(cHoles, 'ch', '#fff', '#fff', 1, 'natural'),
    ...series(cRingWhite, 'cw', '#fff', 'none', 2, 'natural'),
    ...series(cThin, 'cl', '#000', 'none', 2, 'natural'),
    ...series(cHeavy, 'cv', '#000', 'none', 8, 'natural'),
    ...series(cMedium, 'cm', '#000', 'none', 3.5, 'natural'),
    ...series(cEyes, 'ce', '#000', 'none', 4.5, 'natural'),
    ...series(cTop, 'ct', '#000', '#000', 2, 'linear'),
    ...series(cHatchWhite, 'ch2', '#fff', 'none', 1.6, 'natural'),
  ];
  return (
    <div style={{ position: 'absolute', left: 0, top: 0, width: 3157, height: 2848, background: '#fff' }}>
      <Panel box={{ left: 1049, top: 100, width: 1264, height: 955 }} xTicks={ticksFour} xName="x" yName="y" caption="a" captionShift={-40} layers={layersA} />
      <Panel box={{ left: 185, top: 1566, width: 1265, height: 953 }} xTicks={ticksFour} xName="x" yName="z" caption="b" captionShift={0} layers={layersB} />
      <Panel box={{ left: 1846, top: 1566, width: 1259, height: 953 }} xTicks={ticksThree} xName="y" yName="z" caption="c" captionShift={-42} layers={layersC} />
    </div>
  );
}
